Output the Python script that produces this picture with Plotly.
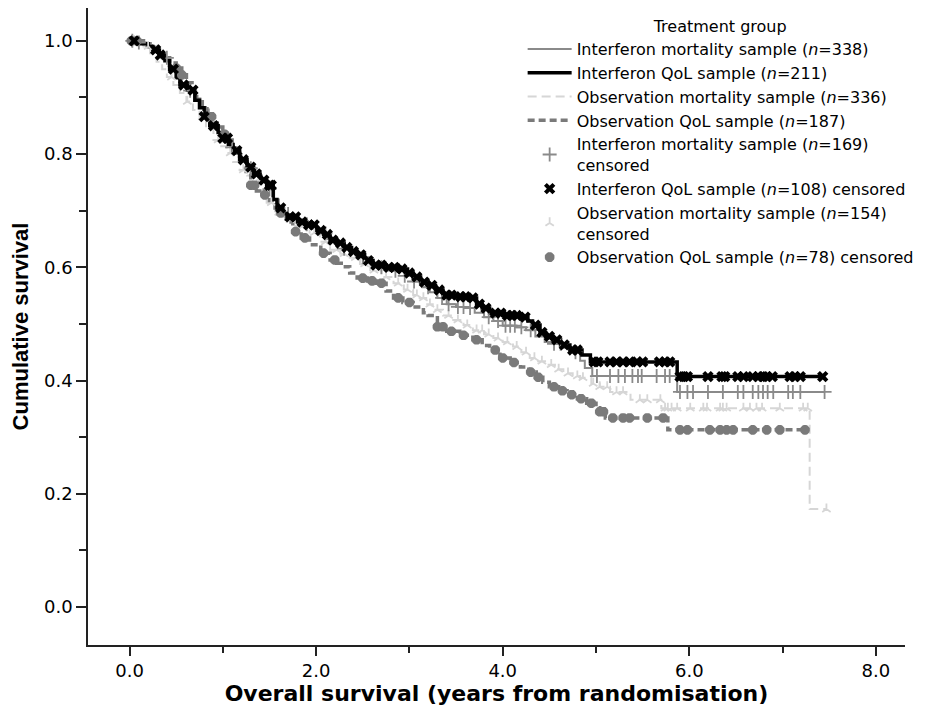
import numpy as np
import plotly.graph_objects as go

# ---------------- data ----------------
# Kaplan-Meier step points: event times (years) and survival after each step
im_t = [0.08, 0.18, 0.28, 0.35, 0.42, 0.5, 0.56, 0.63, 0.7, 0.76, 0.82, 0.88, 0.96, 1.02, 1.08, 1.14, 1.2, 1.27,
        1.35, 1.42, 1.5, 1.55, 1.6, 1.66, 1.75, 1.85, 1.95, 2.04, 2.12, 2.2, 2.28, 2.36, 2.45, 2.55, 2.65, 2.8,
        2.95, 3.04, 3.14, 3.22, 3.3, 3.4, 3.5, 3.62, 3.7, 3.8, 3.9, 4.0, 4.15, 4.25, 4.35, 4.45, 4.55, 4.65,
        4.75, 4.83, 4.88, 4.96, 5.87]
im_s = [0.997, 0.99, 0.98, 0.97, 0.955, 0.94, 0.925, 0.912, 0.898, 0.883, 0.868, 0.852, 0.838, 0.826, 0.812, 0.8,
        0.788, 0.775, 0.762, 0.752, 0.738, 0.72, 0.705, 0.694, 0.685, 0.676, 0.668, 0.66, 0.65, 0.641, 0.633,
        0.626, 0.618, 0.608, 0.6, 0.594, 0.585, 0.575, 0.565, 0.556, 0.546, 0.535, 0.53, 0.528, 0.52, 0.512,
        0.505, 0.497, 0.494, 0.489, 0.478, 0.468, 0.465, 0.458, 0.45, 0.435, 0.422, 0.408, 0.38]
im_end = 7.45

iq_t = [0.1, 0.2, 0.25, 0.32, 0.38, 0.43, 0.5, 0.54, 0.62, 0.7, 0.75, 0.8, 0.86, 0.95, 1.0, 1.06, 1.11, 1.18, 1.26,
        1.33, 1.4, 1.47, 1.54, 1.58, 1.64, 1.69, 1.8, 1.9, 2.0, 2.08, 2.15, 2.22, 2.3, 2.38, 2.44, 2.52, 2.61,
        2.75, 2.9, 2.98, 3.04, 3.12, 3.2, 3.28, 3.36, 3.5, 3.65, 3.72, 3.78, 3.86, 4.0, 4.19, 4.27, 4.32, 4.4,
        4.46, 4.54, 4.62, 4.72, 4.85, 4.94, 5.87]
iq_s = [0.995, 0.99, 0.984, 0.975, 0.965, 0.95, 0.935, 0.922, 0.913, 0.895, 0.882, 0.866, 0.85, 0.838, 0.828,
        0.817, 0.806, 0.79, 0.777, 0.765, 0.754, 0.745, 0.72, 0.705, 0.695, 0.689, 0.68, 0.675, 0.665, 0.658,
        0.648, 0.643, 0.635, 0.628, 0.622, 0.612, 0.604, 0.6, 0.597, 0.59, 0.583, 0.574, 0.568, 0.56, 0.551,
        0.548, 0.546, 0.535, 0.528, 0.519, 0.515, 0.512, 0.505, 0.498, 0.485, 0.478, 0.472, 0.463, 0.454,
        0.445, 0.433, 0.407]
iq_end = 7.43

om_t = [0.1, 0.15, 0.22, 0.29, 0.35, 0.4, 0.47, 0.54, 0.61, 0.68, 0.75, 0.82, 0.9, 0.97, 1.04, 1.11, 1.18, 1.26,
        1.33, 1.4, 1.47, 1.56, 1.65, 1.78, 1.93, 2.04, 2.15, 2.26, 2.36, 2.47, 2.58, 2.7, 2.83, 2.94, 3.04, 3.11,
        3.18, 3.25, 3.36, 3.47, 3.58, 3.68, 3.8, 3.9, 4.0, 4.11, 4.2, 4.29, 4.38, 4.47, 4.56, 4.65, 4.75, 4.83,
        4.95, 5.04, 5.15, 5.37, 5.7, 7.29]
om_s = [0.995, 0.99, 0.978, 0.963, 0.95, 0.936, 0.922, 0.908, 0.893, 0.878, 0.866, 0.845, 0.825, 0.814, 0.802,
        0.786, 0.772, 0.762, 0.754, 0.735, 0.714, 0.697, 0.684, 0.672, 0.661, 0.645, 0.631, 0.624, 0.617, 0.606,
        0.595, 0.583, 0.572, 0.561, 0.551, 0.546, 0.535, 0.525, 0.515, 0.507, 0.498, 0.489, 0.482, 0.475, 0.468,
        0.46, 0.45, 0.44, 0.434, 0.428, 0.42, 0.413, 0.408, 0.405, 0.395, 0.389, 0.38, 0.366, 0.351, 0.173]
om_end = 7.47

oq_t = [0.15, 0.22, 0.3, 0.36, 0.43, 0.5, 0.56, 0.61, 0.67, 0.72, 0.78, 0.83, 0.9, 0.94, 1.0, 1.04, 1.1, 1.18,
        1.25, 1.3, 1.36, 1.43, 1.5, 1.56, 1.61, 1.68, 1.75, 1.84, 1.93, 2.05, 2.15, 2.22, 2.29, 2.36, 2.44, 2.55,
        2.65, 2.75, 2.83, 2.93, 3.04, 3.15, 3.2, 3.3, 3.4, 3.54, 3.68, 3.78, 3.86, 3.97, 4.08, 4.19, 4.28, 4.36,
        4.43, 4.5, 4.6, 4.69, 4.8, 4.9, 5.0, 5.04, 5.1, 5.77]
oq_s = [0.995, 0.99, 0.978, 0.97, 0.961, 0.952, 0.94, 0.926, 0.91, 0.896, 0.88, 0.866, 0.855, 0.848, 0.835,
        0.825, 0.81, 0.79, 0.765, 0.745, 0.735, 0.728, 0.718, 0.705, 0.696, 0.68, 0.663, 0.652, 0.64, 0.625,
        0.613, 0.607, 0.601, 0.59, 0.581, 0.576, 0.572, 0.558, 0.546, 0.538, 0.53, 0.52, 0.515, 0.495, 0.487,
        0.48, 0.472, 0.462, 0.454, 0.44, 0.432, 0.424, 0.415, 0.406, 0.397, 0.389, 0.382, 0.375, 0.368, 0.36,
        0.352, 0.345, 0.334, 0.313]
oq_end = 7.24

# censoring times (years)
im_c = [0.03, 0.1, 0.4, 0.65, 0.85, 1.1, 1.3, 1.5, 1.7, 1.9, 2.1, 2.3, 2.5, 2.7, 2.85, 2.95, 3.05, 3.2, 3.35,
        3.42, 3.52, 3.58, 3.65, 3.85, 3.95, 4.03, 4.08, 4.13, 4.2, 4.3, 4.55, 4.62, 4.78, 5.01, 5.15, 5.24, 5.31,
        5.39, 5.45, 5.49, 5.65, 5.74, 5.79, 5.9, 5.98, 6.04, 6.2, 6.36, 6.52, 6.58, 6.68, 6.74, 6.79, 6.84, 6.9,
        7.06, 7.11, 7.19, 7.45]
iq_c = [0.05, 0.28, 0.33, 0.47, 0.58, 0.68, 0.8, 0.9, 1.0, 1.05, 1.15, 1.22, 1.3, 1.36, 1.44, 1.5, 1.52, 1.62,
        1.72, 1.78, 1.85, 1.92, 1.98, 2.05, 2.12, 2.18, 2.26, 2.33, 2.4, 2.48, 2.56, 2.64, 2.7, 2.78, 2.84, 2.92,
        3.0, 3.08, 3.16, 3.24, 3.32, 3.4, 3.45, 3.55, 3.6, 3.68, 3.75, 3.82, 3.92, 3.98, 4.05, 4.1, 4.15, 4.24,
        4.35, 4.42, 4.5, 4.58, 4.66, 4.75, 4.8, 4.98, 5.02, 5.15, 5.22, 5.29, 5.36, 5.44, 5.5, 5.68, 5.74, 5.79,
        5.9, 5.94, 5.98, 6.2, 6.35, 6.38, 6.52, 6.58, 6.68, 6.74, 6.79, 6.83, 6.89, 7.08, 7.13, 7.19, 7.43]
om_c = [0.05, 0.2, 0.45, 0.62, 0.78, 0.95, 1.08, 1.22, 1.38, 1.52, 1.6, 1.72, 1.85, 1.98, 2.1, 2.22, 2.3, 2.42,
        2.52, 2.62, 2.75, 2.88, 2.98, 3.08, 3.15, 3.22, 3.3, 3.42, 3.52, 3.62, 3.72, 3.78, 3.85, 3.95, 4.05, 4.15,
        4.25, 4.34, 4.42, 4.52, 4.6, 4.7, 4.8, 4.86, 4.97, 5.04, 5.12, 5.22, 5.29, 5.47, 5.55, 5.69, 5.74, 5.77,
        5.81, 5.87, 6.01, 6.15, 6.19, 6.33, 6.36, 6.4, 6.58, 6.65, 6.72, 6.78, 6.97, 7.22, 7.27, 7.47]
oq_c = [0.02, 0.08, 0.5, 0.56, 0.88, 1.02, 1.3, 1.34, 1.45, 1.62, 1.78, 1.88, 2.08, 2.2, 2.5, 2.6, 2.7, 2.88,
        3.0, 3.3, 3.36, 3.45, 3.58, 3.72, 3.92, 4.0, 4.12, 4.3, 4.38, 4.55, 4.64, 4.74, 4.84, 4.95, 5.04, 5.08,
        5.18, 5.29, 5.36, 5.55, 5.72, 5.9, 5.98, 6.22, 6.33, 6.4, 6.47, 6.68, 6.83, 6.97, 7.24]

x_ticks = [0, 2, 4, 6, 8]
y_ticks = [0, 0.2, 0.4, 0.6, 0.8, 1.0]

names_line = ["Interferon mortality sample (<i>n</i>=338)",
              "Interferon QoL sample (<i>n</i>=211)",
              "Observation mortality sample (<i>n</i>=336)",
              "Observation QoL sample (<i>n</i>=187)"]
names_cens = ["Interferon mortality sample (<i>n</i>=169)<br>censored",
              "Interferon QoL sample (<i>n</i>=108) censored",
              "Observation mortality sample (<i>n</i>=154)<br>censored",
              "Observation QoL sample (<i>n</i>=78) censored"]

# ---------------- helpers ----------------
def km_xy(t, s, end):
    return [0.0] + list(t) + [end], [1.0] + list(s) + [s[-1]]

def surv_at(t, s, c):
    t = np.asarray(t); s = np.asarray(s)
    idx = np.searchsorted(t, np.asarray(c), side="right") - 1
    return np.where(idx < 0, 1.0, s[np.clip(idx, 0, None)])

groups = [
    dict(t=im_t, s=im_s, end=im_end, c=im_c, color="#8a8a8a", width=2, dash="solid",
         sym="cross-thin", msize=10, mline=1.8, mcolor="#8a8a8a"),
    dict(t=iq_t, s=iq_s, end=iq_end, c=iq_c, color="#000000", width=3.5, dash="solid",
         sym="x", msize=10, mline=0, mcolor="#000000"),
    dict(t=om_t, s=om_s, end=om_end, c=om_c, color="#d6d6d6", width=2, dash="9px,5px",
         sym="y-up", msize=7, mline=1.8, mcolor="#d6d6d6"),
    dict(t=oq_t, s=oq_s, end=oq_end, c=oq_c, color="#7a7a7a", width=3.5, dash="7px,4px",
         sym="asterisk", msize=8, mline=3.5, mcolor="#7a7a7a"),
]

fig = go.Figure()
draw_order = [2, 0, 3, 1]
for i in draw_order:
    g = groups[i]
    x, y = km_xy(g["t"], g["s"], g["end"])
    fig.add_trace(go.Scatter(x=x, y=y, mode="lines", line_shape="hv",
                             line=dict(color=g["color"], width=g["width"], dash=g["dash"]),
                             name=names_line[i], legendrank=100 + i))
for i in draw_order:
    g = groups[i]
    cy = surv_at(g["t"], g["s"], g["c"])
    fig.add_trace(go.Scatter(x=g["c"], y=cy, mode="markers",
                             marker=dict(symbol=g["sym"], size=g["msize"], color=g["mcolor"],
                                         line=dict(color=g["mcolor"], width=g["mline"])),
                             name=names_cens[i], legendrank=200 + i))

wide = "DejaVu Sans, Verdana, sans-serif"
narrow = "Liberation Sans, Arial, Helvetica, sans-serif"
axc = "#222"
# the page body adds an 8px offset; the figure is sized so it fills the window exactly
fig.update_layout(
    width=920, height=699,
    margin=dict(l=80, r=23, t=0, b=62),
    plot_bgcolor="white", paper_bgcolor="white",
    font=dict(family=wide, size=16, color="black"),
    legend=dict(x=0.532, y=0.995, xanchor="left", yanchor="top",
                title=dict(text="Treatment group", side="top center", font=dict(size=16, family=wide)),
                font=dict(size=16, family=wide), itemwidth=44, tracegroupgap=0,
                bgcolor="rgba(0,0,0,0)"),
    xaxis=dict(range=[-0.445, 8.312], tickvals=x_ticks, tickformat=".1f", automargin=False,
               showline=True, linecolor=axc, linewidth=1.5,
               ticks="outside", ticklen=9, tickwidth=1.5, tickcolor=axc,
               minor=dict(dtick=1, tick0=0, ticks="outside", ticklen=6, tickwidth=1.5, tickcolor=axc),
               showgrid=False, zeroline=False, tickfont=dict(size=18, family=wide),
               title=dict(text="<b>Overall survival (years from randomisation)</b>",
                          font=dict(size=22, family=wide), standoff=4)),
    yaxis=dict(range=[-0.067, 1.058], tickvals=y_ticks, tickformat=".1f", automargin=False,
               showline=True, linecolor=axc, linewidth=1.5,
               ticks="outside", ticklen=10, tickwidth=1.5, tickcolor=axc,
               minor=dict(dtick=0.1, tick0=0, ticks="outside", ticklen=7, tickwidth=1.5, tickcolor=axc),
               showgrid=False, zeroline=False, tickfont=dict(size=18, family=wide),
               title=dict(text="<b>Cumulative survival</b>", font=dict(size=22, family=narrow), standoff=10)),
)

fig.write_html("out.html")
